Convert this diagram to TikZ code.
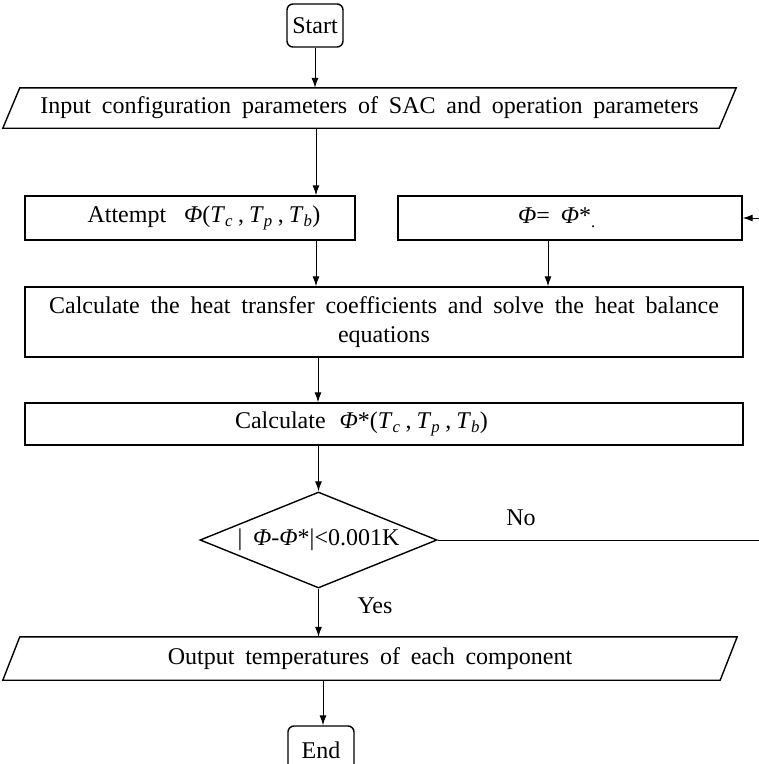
\documentclass[tikz,border=0pt]{standalone}
\usepackage{fontspec}
\setmainfont{Liberation Serif}[WordSpace=1.8]
\usetikzlibrary{arrows.meta,shapes.geometric}
\newcommand{\Ph}{\textit{Φ}}
\newcommand{\Tsub}[1]{\textit{T}\textsubscript{\textit{#1}}}
\newcommand{\Tlist}{\Tsub{c}\hspace{5pt},\hspace{5pt}\Tsub{p}\hspace{5pt},\hspace{5pt}\Tsub{b}}
\begin{document}
\begin{tikzpicture}[x=1pt,y=-1pt,
  txt/.style={font=\fontsize{24}{29}\selectfont},
  box/.style={draw,line width=1.4pt,inner sep=0pt,txt},
  term/.style={box,rounded corners=6pt},
  io/.style={inner sep=0pt,txt},
  dec/.style={diamond,draw,line width=1.4pt,inner sep=0pt,txt},
  arr/.style={line width=1pt,-{Latex[length=10pt,width=7pt]}},
  slant/.style={draw,line width=1.4pt}
]
\useasboundingbox (0,0) rectangle (759,764);

\node[term, minimum width=56, minimum height=43] (start) at (315,25.5) {Start};

\node[io, minimum width=733, minimum height=40] (inp) at (369.5,108) {Input configuration parameters of SAC and operation parameters};
\draw[slant] ([xshift=17pt]inp.north west) -- (inp.north east) -- ([xshift=-17pt]inp.south east) -- (inp.south west) -- cycle;

\node[box, minimum width=330, minimum height=44] (att) at (190,218) {\hspace*{28pt}Attempt\hspace{18pt}\Ph(\Tlist)};
\node[box, minimum width=344, minimum height=44] (set) at (570,218) {\Ph= \Ph*\textsubscript{.}\hspace*{26pt}};

\node[box, minimum width=718, minimum height=70, align=center] (heat) at (384,322) {Calculate the heat transfer coefficients and solve the heat balance\\equations};

\node[box, minimum width=718, minimum height=42] (calc) at (384,424) {Calculate\hspace{14pt}\Ph*(\Tlist)\hspace*{45pt}};

\node[dec, aspect=2.47, minimum width=237, minimum height=96] (cond) at (318.5,540) {| \Ph-\Ph*|<0.001K};

\node[io, minimum width=734, minimum height=43] (out) at (370,658.5) {Output temperatures of each component};
\draw[slant] ([xshift=17pt]out.north west) -- (out.north east) -- ([xshift=-17pt]out.south east) -- (out.south west) -- cycle;

\node[term, minimum width=66, minimum height=48] (end) at (321,750) {End};

\coordinate (xa) at (316,0);
\coordinate (xb) at (548,0);
\coordinate (xc) at (318,0);
\coordinate (xd) at (323,0);
\coordinate (fb) at (760,0);

\draw[arr] (start.south) -- (start.south |- inp.north);
\draw[arr] (inp.south -| xa) -- (att.north -| xa);
\draw[arr] (att.south -| xa) -- (heat.north -| xa);
\draw[arr] (set.south -| xb) -- (heat.north -| xb);
\draw[arr] (heat.south -| xc) -- (calc.north -| xc);
\draw[arr] (calc.south -| cond.north) -- (cond.north);
\draw[arr] (cond.south) -- (out.north -| cond.south);
\draw[arr] (out.south -| xd) -- (end.north -| xd);
\draw[arr] (cond.east) -- (cond.east -| fb) -- (set.east -| fb) -- (set.east);

\node[txt] (no) at (521,518) {No};
\node[txt] (yes) at (375,606) {Yes};
\end{tikzpicture}
\end{document}
